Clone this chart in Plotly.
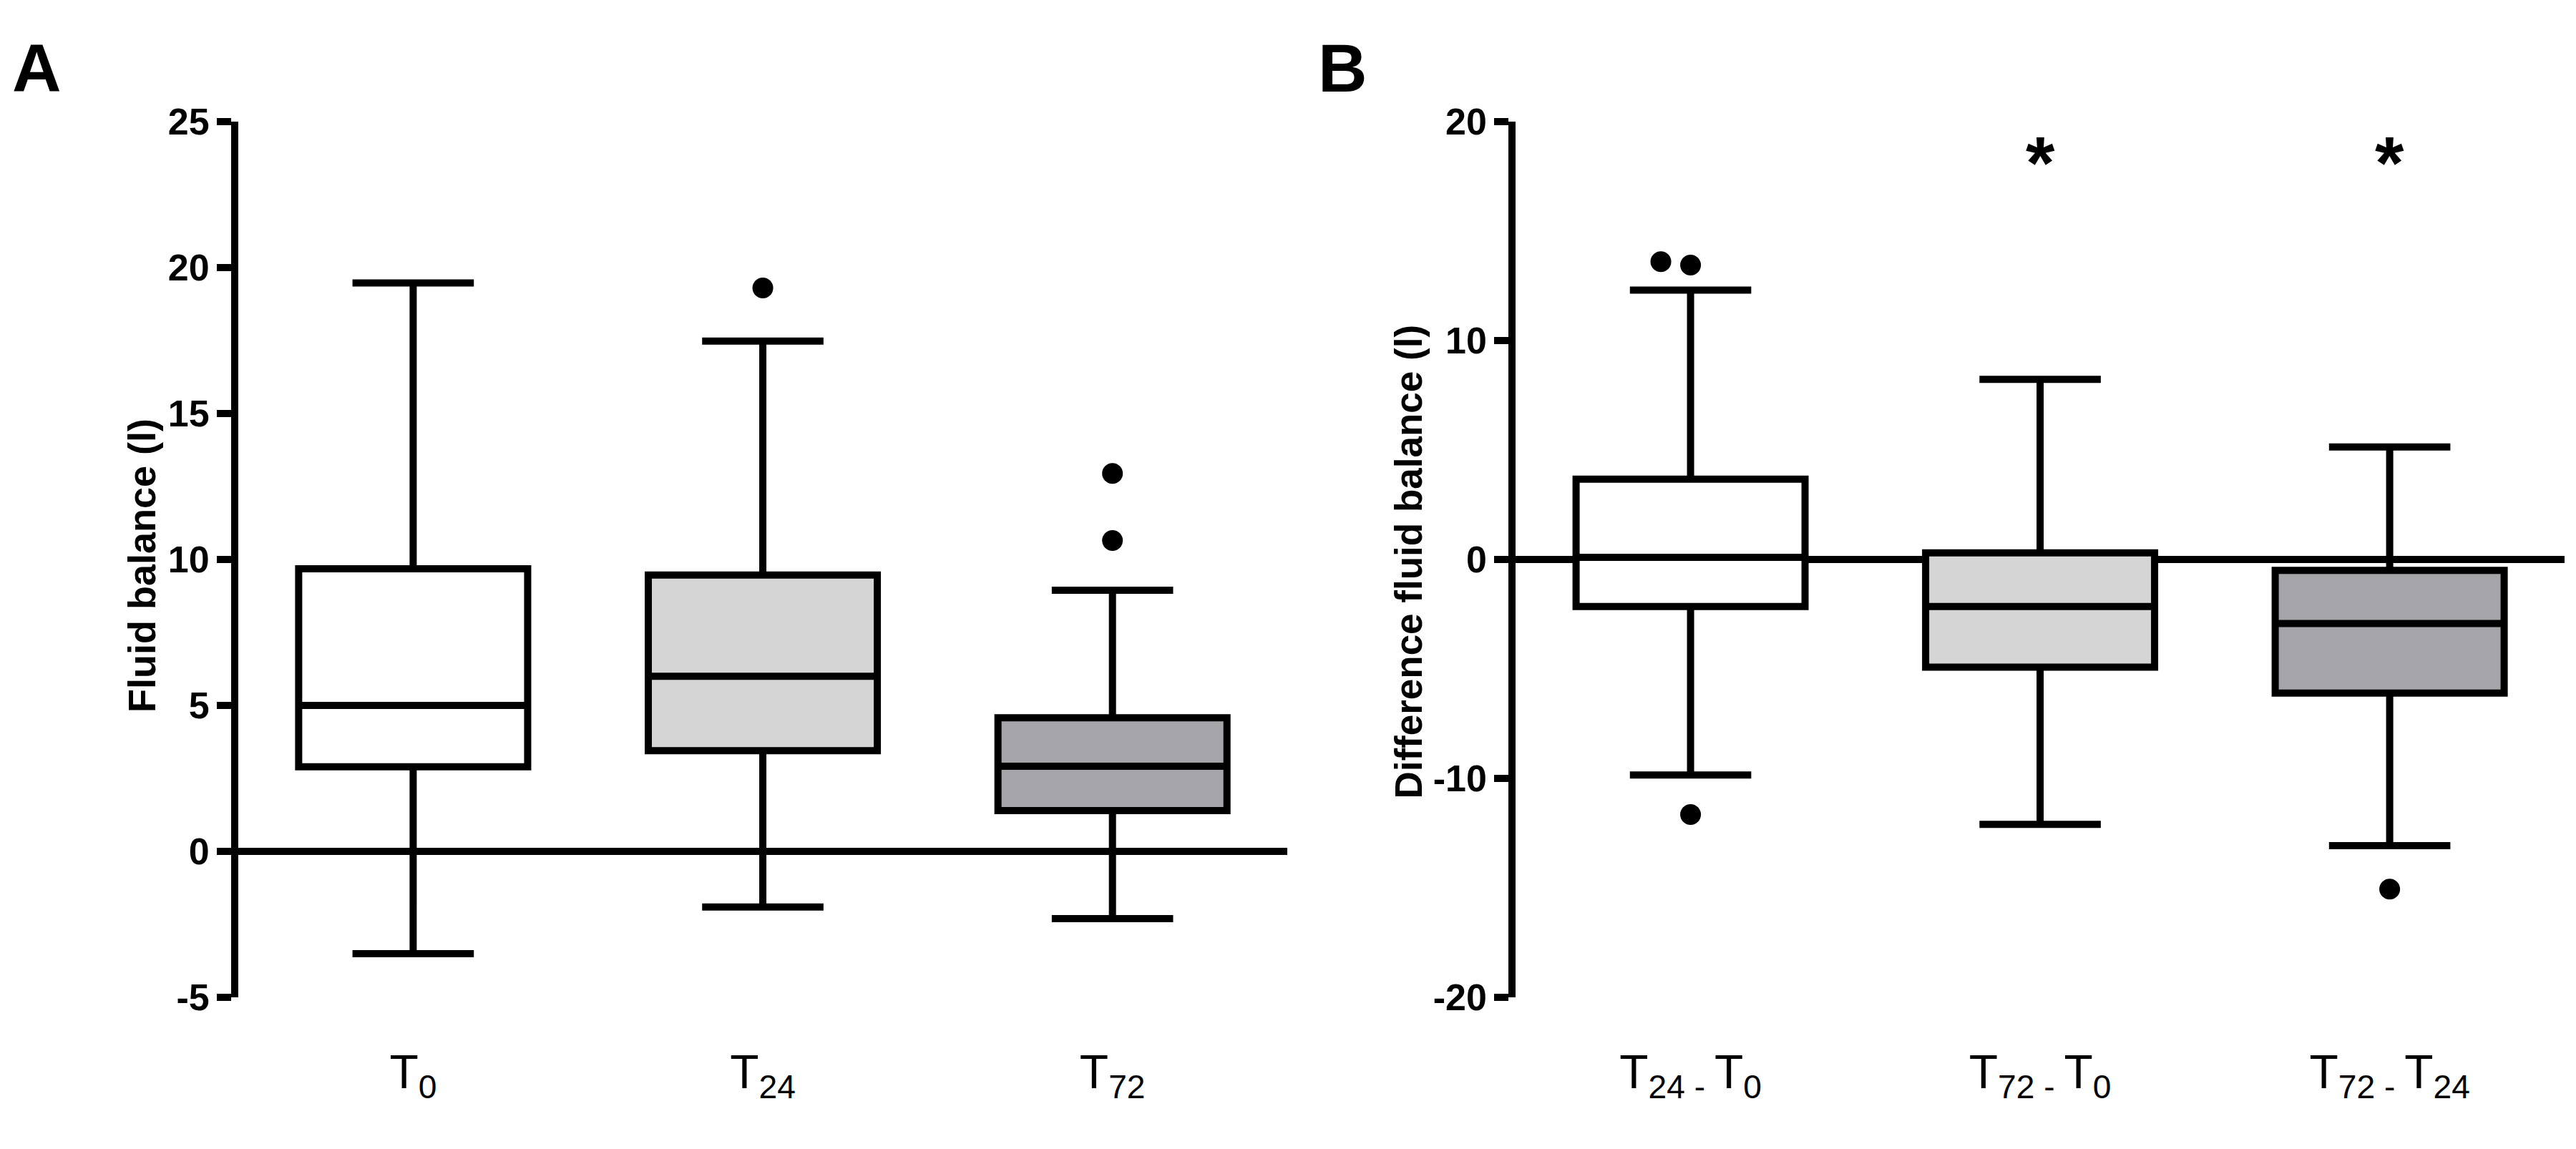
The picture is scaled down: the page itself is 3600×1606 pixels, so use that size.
import plotly.graph_objects as go

# Panel A: fluid balance at each time point (l)
groups_a = ["T<sub>0</sub>", "T<sub>24</sub>", "T<sub>72</sub>"]
q1_a = [2.9, 3.45, 1.4]
median_a = [5.0, 6.0, 2.92]
q3_a = [9.68, 9.47, 4.58]
lower_a = [-3.5, -1.9, -2.3]
upper_a = [19.47, 17.48, 8.95]
out_group_a = [1, 2, 2]
out_y_a = [19.3, 12.95, 10.65]

# Panel B: differences between time points (l)
groups_b = ["T<sub>24 - </sub>T<sub>0</sub>", "T<sub>72 - </sub>T<sub>0</sub>", "T<sub>72 - </sub>T<sub>24</sub>"]
q1_b = [-2.15, -4.92, -6.1]
median_b = [0.1, -2.15, -2.92]
q3_b = [3.67, 0.3, -0.5]
lower_b = [-9.84, -12.1, -13.07]
upper_b = [12.3, 8.23, 5.14]
out_group_b = [0, 0, 0, 2]
out_shift_b = [-0.085, 0, 0, 0]
out_y_b = [13.6, 13.45, -11.65, -15.05]
star_groups_b = [1, 2]

ticks_a = [-5, 0, 5, 10, 15, 20, 25]
ticks_b = [-20, -10, 0, 10, 20]

FILLS = ["#ffffff", "#d5d5d5", "#a4a4a9"]
FONT = "Liberation Sans, Arial, sans-serif"

fig = go.Figure()


def add_boxes(q1, med, q3, lo, hi, xa, ya):
    for i in range(len(q1)):
        fig.add_trace(go.Box(
            x=[i], q1=[q1[i]], median=[med[i]], q3=[q3[i]],
            lowerfence=[lo[i]], upperfence=[hi[i]],
            width=0.655, whiskerwidth=0.53,
            fillcolor=FILLS[i], line=dict(color="black", width=10),
            boxpoints=False, hoverinfo="skip",
            xaxis=xa, yaxis=ya,
        ))


add_boxes(q1_a, median_a, q3_a, lower_a, upper_a, "x", "y")
add_boxes(q1_b, median_b, q3_b, lower_b, upper_b, "x2", "y2")

fig.add_trace(go.Scatter(
    x=out_group_a, y=out_y_a, mode="markers",
    marker=dict(color="black", size=29), xaxis="x", yaxis="y",
))
fig.add_trace(go.Scatter(
    x=[g + s for g, s in zip(out_group_b, out_shift_b)], y=out_y_b, mode="markers",
    marker=dict(color="black", size=29), xaxis="x2", yaxis="y2",
))

for g in star_groups_b:
    fig.add_annotation(x=g, y=18.1, xref="x2", yref="y2", text="<b>*</b>",
                       showarrow=False, font=dict(family=FONT, size=104, color="black"))

# panel letters and axis titles
fig.add_annotation(x=0.002, y=0.998, xref="paper", yref="paper", xanchor="left", yanchor="top",
                   text="<b>A</b>", showarrow=False, font=dict(family=FONT, size=95, color="black"))
fig.add_annotation(x=0.509, y=0.998, xref="paper", yref="paper", xanchor="left", yanchor="top",
                   text="<b>B</b>", showarrow=False, font=dict(family=FONT, size=95, color="black"))
fig.add_annotation(x=0.0528, y=0.513, xref="paper", yref="paper", textangle=-90,
                   xanchor="center", yanchor="middle",
                   text="<b>Fluid balance (l)</b>", showarrow=False,
                   font=dict(family=FONT, size=54, color="black"))
fig.add_annotation(x=0.5447, y=0.517, xref="paper", yref="paper", textangle=-90,
                   xanchor="center", yanchor="middle",
                   text="<b>Difference fluid balance (l)</b>", showarrow=False,
                   font=dict(family=FONT, size=53, color="black"))

xcommon = dict(range=[-0.5, 2.5], tickvals=[0, 1, 2], showline=False, showgrid=False,
               zeroline=False, ticks="", ticklabelstandoff=60,
               tickfont=dict(family=FONT, size=66, color="black"))
ycommon = dict(showline=True, linewidth=10, linecolor="black", ticks="outside",
               ticklen=20, tickwidth=10, tickcolor="black", showgrid=False,
               zeroline=True, zerolinewidth=10, zerolinecolor="black",
               tickfont=dict(family=FONT, size=52, color="black", weight="bold"),
               domain=[0.1233, 0.9141])

fig.update_layout(
    width=3600, height=1606,
    margin=dict(l=0, r=0, t=0, b=0),
    plot_bgcolor="white", paper_bgcolor="white",
    showlegend=False,
    xaxis=dict(domain=[0.0903, 0.4975], ticktext=groups_a, anchor="y", **xcommon),
    yaxis=dict(range=[-5, 25], tickvals=ticks_a, ticktext=[str(t) for t in ticks_a],
               anchor="x", **ycommon),
    xaxis2=dict(domain=[0.5862, 0.9933], ticktext=groups_b, anchor="y2", **xcommon),
    yaxis2=dict(range=[-20, 20], tickvals=ticks_b, ticktext=[str(t) for t in ticks_b],
                anchor="x2", **ycommon),
)

fig.write_html("out.html")
